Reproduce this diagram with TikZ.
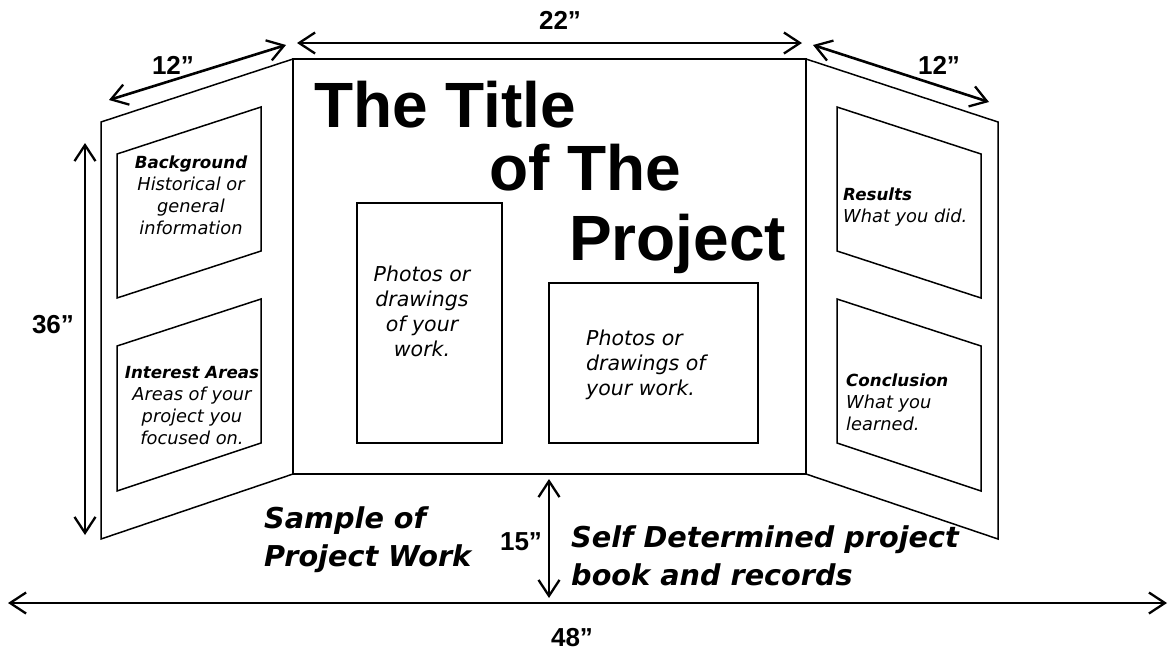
\documentclass[tikz,border=0pt]{standalone}
\usepackage{fontspec}
\setmainfont{Liberation Sans}
\newfontfamily\boardfont{DejaVu Sans}
\usetikzlibrary{arrows.meta}
\newcommand{\notehead}[1]{{\fontsize{16.7}{22}\selectfont\bfseries #1}}
\tikzset{
  dimarrow/.style={<->,>={Straight Barb[length=16pt,width=21pt,line width=2.3pt]},line width=2.6pt},
  boardline/.style={draw,line width=1.5pt},
  dimlabel/.style={font=\fontsize{26}{26}\selectfont\bfseries,inner sep=0pt},
  titleword/.style={anchor=base west,inner sep=0pt,font=\fontsize{64}{64}\selectfont\bfseries},
  note/.style={inner sep=0pt,anchor=base,font=\boardfont\fontsize{17.8}{22}\selectfont\itshape,align=center},
  leftnote/.style={note,anchor=base west,align=left},
  photonote/.style={note,font=\boardfont\fontsize{20.5}{25}\selectfont\itshape},
  bignote/.style={inner sep=0pt,anchor=base west,font=\boardfont\fontsize{28.7}{37.5}\selectfont\itshape\bfseries,align=left}
}
\begin{document}
\begin{tikzpicture}[x=1pt,y=-1pt]
  \useasboundingbox (0,0) rectangle (1169,651);
  % board
  \draw[boardline] (293,59) -- (806,59) -- (806,474) -- (293,474) -- cycle;
  \draw[boardline] (293,59) -- (101,122) -- (101,539) -- (293,474);
  \draw[boardline] (806,59) -- (998,122) -- (998,539) -- (806,474);
  % left panel
  \draw[boardline] (117,154) -- (261,107) -- (261,251) -- (117,298) -- cycle;
  \draw[boardline] (117,346) -- (261,299) -- (261,443) -- (117,491) -- cycle;
  % right panel
  \draw[boardline] (837,107) -- (981,154) -- (981,298) -- (837,251) -- cycle;
  \draw[boardline] (837,299) -- (981,346) -- (981,491) -- (837,443) -- cycle;
  % middle
  \draw[boardline] (357,203) rectangle (502,443);
  \draw[boardline] (549,283) rectangle (758,443);
  % title
  \node[titleword] (title1) at (314,127) {The Title};
  \node[titleword] (title2) at (489,190) {of The};
  \node[titleword] (title3) at (569,260) {Project};
  % notes
  \node[note] (background) at (191,234) {\notehead{Background}\\Historical or\\general\\information};
  \node[note] (interest) at (192,444) {\notehead{Interest Areas}\\Areas of your\\project you\\focused on.};
  \node[photonote] (photos1) at (422,356) {Photos or\\drawings\\of your\\work.};
  \node[photonote,anchor=base west,align=left] (photos2) at (586,395) {Photos or\\drawings of\\your work.};
  \node[leftnote] (results) at (843,222) {\notehead{Results}\\What you did.};
  \node[leftnote] (conclusion) at (846,430) {\notehead{Conclusion}\\What you\\learned.};
  \node[bignote] (sample) at (264,566) {Sample of\\Project Work};
  \node[bignote] (selfdet) at (571,585) {Self Determined project\\book and records};
  % dimensions
  \coordinate (a1) at (109,100);
  \coordinate (a2) at (286,45);
  \coordinate (b1) at (297,43);
  \coordinate (b2) at (802,43);
  \coordinate (c1) at (813,45);
  \coordinate (c2) at (989,102);
  \coordinate (d1) at (85,143);
  \coordinate (d2) at (85,535);
  \coordinate (e1) at (549,479);
  \coordinate (e2) at (549,598);
  \coordinate (f1) at (8,603);
  \coordinate (f2) at (1167,603);
  \draw[dimarrow] (a1) -- (a2);
  \draw[dimarrow] (b1) -- (b2);
  \draw[dimarrow] (c1) -- (c2);
  \draw[dimarrow] (d1) -- (d2);
  \draw[dimarrow] (e1) -- (e2);
  \draw[dimarrow] (f1) -- (f2);
  \node[dimlabel] (w1) at (173,65) {12”};
  \node[dimlabel] (w2) at (560,20) {22”};
  \node[dimlabel] (w3) at (939,65) {12”};
  \node[dimlabel] (h1) at (53,325) {36”};
  \node[dimlabel] (h2) at (521,542) {15”};
  \node[dimlabel] (w4) at (572,638) {48”};
\end{tikzpicture}
\end{document}
